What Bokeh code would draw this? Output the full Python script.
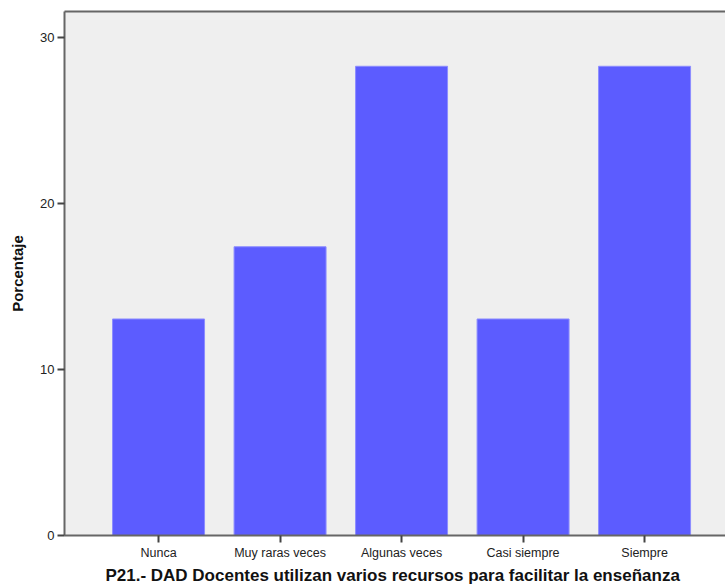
from bokeh.plotting import figure
from bokeh.models import FixedTicker, LinearAxis, ColumnDataSource
from bokeh.embed import file_html
from bokeh.resources import INLINE

categories = ["Nunca", "Muy raras veces", "Algunas veces", "Casi siempre", "Siempre"]
percentages = [13.04, 17.39, 28.26, 13.04, 28.26]
y_ticks = [0, 10, 20, 30]

positions = list(range(1, len(categories) + 1))
src = ColumnDataSource(dict(x=positions, top=percentages, cat=categories))

p = figure(width=725, height=587, output_backend="svg", toolbar_location=None,
           x_range=(0.226, 5.666), y_range=(0, 31.56),
           min_border_left=64, min_border_top=11, min_border_bottom=51, min_border_right=0,
           background_fill_color="#efefef", border_fill_color="white")
p.outline_line_color = None
p.grid.visible = False

p.vbar(x="x", top="top", bottom=0, width=0.757, source=src,
       fill_color="#5c5cff", line_color="#8c8cff", line_width=1)

xa = p.xaxis[0]
xa.ticker = FixedTicker(ticks=positions)
xa.major_label_overrides = {pos: c for pos, c in zip(positions, categories)}
xa.minor_tick_line_color = None
xa.major_tick_in = 0
xa.major_tick_out = 7
xa.major_tick_line_color = "#444444"
xa.major_tick_line_width = 2
xa.axis_line_color = "#666666"
xa.axis_line_width = 2
xa.major_label_text_font = "Liberation Sans"
xa.major_label_text_font_size = "12.5px"
xa.major_label_text_color = "#222222"
xa.major_label_standoff = 3
xa.axis_label = "P21.- DAD Docentes utilizan varios recursos  para facilitar la enseñanza"
xa.axis_label_text_font = "Liberation Sans"
xa.axis_label_text_font_style = "bold"
xa.axis_label_text_font_size = "17px"
xa.axis_label_text_color = "#111111"
xa.axis_label_standoff = 3

ya = p.yaxis[0]
ya.ticker = FixedTicker(ticks=y_ticks)
ya.minor_tick_line_color = None
ya.major_tick_in = 0
ya.major_tick_out = 7
ya.major_tick_line_color = "#444444"
ya.major_tick_line_width = 2
ya.axis_line_color = "#666666"
ya.axis_line_width = 2
ya.major_label_text_font = "Liberation Sans"
ya.major_label_text_font_size = "13px"
ya.major_label_text_color = "#222222"
ya.major_label_standoff = 3
ya.axis_label = "Porcentaje"
ya.axis_label_text_font = "Liberation Sans"
ya.axis_label_text_font_style = "bold"
ya.axis_label_text_font_size = "15px"
ya.axis_label_text_color = "#111111"
ya.axis_label_standoff = 11

top_axis = LinearAxis(ticker=FixedTicker(ticks=[]), major_label_text_font_size="0px",
                      major_tick_line_color=None, minor_tick_line_color=None,
                      axis_line_color="#666666", axis_line_width=2)
p.add_layout(top_axis, "above")

open("out.html", "w").write(file_html(p, INLINE))
